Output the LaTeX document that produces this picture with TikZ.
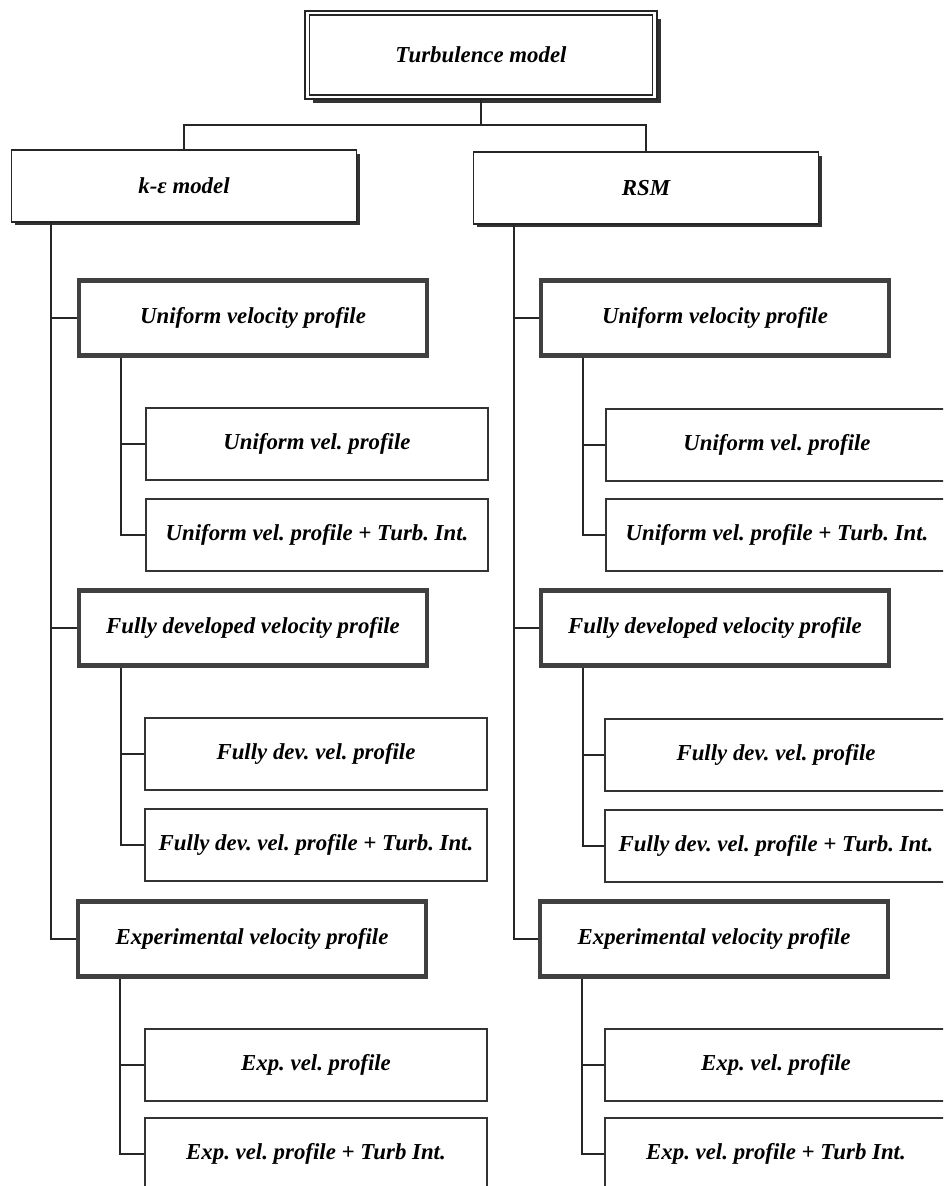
\documentclass[tikz,border=0pt]{standalone}
\usepackage{fontspec}
\setmainfont{Liberation Serif}
\usetikzlibrary{positioning,calc,shadows}
\frenchspacing

\tikzset{
  lbl/.style={font=\bfseries\itshape\fontsize{13}{15}\selectfont, align=center, inner sep=0pt},
  topbox/.style={lbl, draw=black!85, line width=0.9pt, double, double distance=1.4pt, fill=white,
    minimum width=6.95cm, minimum height=1.68cm,
    drop shadow={shadow xshift=0.12cm, shadow yshift=-0.12cm, fill=black!80, opacity=1}},
  modelbox/.style={lbl, draw=black!85, line width=0.8pt, fill=white,
    minimum width=6.9cm, minimum height=1.44cm,
    drop shadow={shadow xshift=0.07cm, shadow yshift=-0.07cm, fill=black!80, opacity=1}},
  groupbox/.style={lbl, draw=black!75, line width=2.4pt, fill=white,
    minimum width=6.95cm, minimum height=1.5cm},
  casebox/.style={lbl, draw=black!80, line width=0.8pt, fill=white,
    minimum width=6.84cm, minimum height=1.44cm},
  link/.style={draw=black!85, line width=1.1pt}
}

\begin{document}
\begin{tikzpicture}[x=0.02cm, y=-0.02cm]
    \useasboundingbox (0,0) rectangle (943,1186);
    \clip (0,0) rectangle (943,1186);

    % root and the two models
    \node[topbox] (turb) at (481,55) {Turbulence model};
    \node[modelbox] (kmod) at (184,186) {k-ε model};
    \node[modelbox] (rsm) at (646,188) {RSM};

    % k-epsilon branch
    \node[groupbox] (kuni) at (253,318) {Uniform velocity profile};
    \node[groupbox] (kful) at (253,628) {Fully developed velocity profile};
    \node[groupbox] (kexp) at (252,939) {Experimental velocity profile};

    \node[casebox] (kuniA) at (317,444) {Uniform vel. profile};
    \node[casebox] (kuniB) at (317,535) {Uniform vel. profile + Turb. Int.};
    \node[casebox] (kfulA) at (316,754) {Fully dev. vel. profile};
    \node[casebox] (kfulB) at (316,845) {Fully dev. vel. profile + Turb. Int.};
    \node[casebox] (kexpA) at (316,1065) {Exp. vel. profile};
    \node[casebox] (kexpB) at (316,1154) {Exp. vel. profile + Turb Int.};

    % RSM branch
    \node[groupbox] (runi) at (715,318) {Uniform velocity profile};
    \node[groupbox] (rful) at (715,628) {Fully developed velocity profile};
    \node[groupbox] (rexp) at (714,939) {Experimental velocity profile};

    \node[casebox] (runiA) at (777,445) {Uniform vel. profile};
    \node[casebox] (runiB) at (777,535) {Uniform vel. profile + Turb. Int.};
    \node[casebox] (rfulA) at (776,755) {Fully dev. vel. profile};
    \node[casebox] (rfulB) at (776,846) {Fully dev. vel. profile + Turb. Int.};
    \node[casebox] (rexpA) at (776,1065) {Exp. vel. profile};
    \node[casebox] (rexpB) at (776,1154) {Exp. vel. profile + Turb Int.};

    % root connectors
    \coordinate (split) at (481,125);
    \draw[link] (turb.south) -- (split);
    \draw[link] (kmod.north) |- (split) -| (rsm.north);

    % main trunks
    \coordinate (ktrunk) at ($(kmod.south west)+(40,0)$);
    \coordinate (rtrunk) at ($(rsm.south west)+(41,0)$);
    \foreach \m in {k,r} {
      \draw[link] (\m trunk) |- (\m exp.west);
      \draw[link] (\m trunk |- \m uni.west) -- (\m uni.west);
      \draw[link] (\m trunk |- \m ful.west) -- (\m ful.west);
    }

    % sub trunks
    \foreach \g in {kuni,kful,kexp,runi,rful,rexp} {
      \coordinate (\g sub) at ($(\g.south west)+(44,0)$);
      \draw[link] (\g sub) |- (\g B.west);
      \draw[link] (\g sub |- \g A.west) -- (\g A.west);
    }
\end{tikzpicture}
\end{document}
